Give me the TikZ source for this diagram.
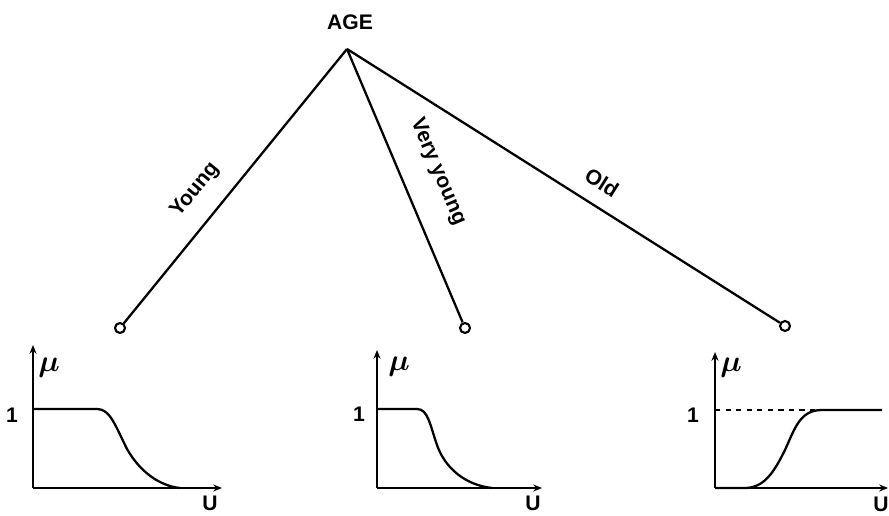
\documentclass[tikz,border=0pt]{standalone}
\usepackage{fontspec}
\setmainfont{Liberation Sans}
\usetikzlibrary{arrows.meta}

\begin{document}
\begin{tikzpicture}[x=0.02cm,y=-0.02cm,line width=1.3pt,
  lbl/.style={font=\bfseries\fontsize{12}{14}\selectfont},
  mulbl/.style={font=\fontsize{16}{18}\selectfont\boldmath},
  feuille/.style={circle,draw,fill=white,inner sep=0pt,minimum size=0.2cm,line width=1.2pt},
  axe/.style={-{Stealth[length=5pt,width=4pt]},line width=1.5pt}]

\useasboundingbox (0,0) rectangle (889,516);

% Racine
\coordinate (apex) at (347,49);
\node[lbl] (age) at (350,22) {AGE};

% Feuilles
\node[feuille] (young) at (120,328) {};
\node[feuille] (vyoung) at (465,328) {};
\node[feuille] (old) at (785,326) {};

% Branches
\draw (apex) -- (young) node[lbl,sloped,above=7pt,pos=0.58] {Young};
\draw (apex) -- (vyoung) node[lbl,sloped,above=11pt,pos=0.5] {Very young};
\draw (apex) -- (old) node[lbl,sloped,above=5pt,pos=0.56] {Old};

% Graphe 1 : young
\draw[axe] (33,488) -- (33,345);
\draw[axe] (33,488) -- (222,488);
\draw (33,409) -- (97,409) .. controls (110,409) and (115,425) .. (127,449)
  .. controls (140,472) and (160,486) .. (180,488);
\node[lbl] (un1) at (12,415) {1};
\node[mulbl] (mu1) at (49,368) {$\mu$};
\node[lbl] (u1) at (210,503) {U};

% Graphe 2 : very young
\draw[axe] (377,488) -- (377,350);
\draw[axe] (377,488) -- (542,488);
\draw (377,409) -- (417,409) .. controls (428,409) and (430,425) .. (437,445)
  .. controls (445,468) and (465,485) .. (492,488);
\node[lbl] (un2) at (359,414) {1};
\node[mulbl] (mu2) at (399,367) {$\mu$};
\node[lbl] (u2) at (533,503) {U};

% Graphe 3 : old
\draw[axe] (715,488) -- (715,352);
\draw[axe] (715,488) -- (888,488);
\draw[dashed] (715,410) -- (815,410);
\draw (715,488) -- (745,488) .. controls (765,488) and (775,470) .. (785,450)
  .. controls (795,428) and (800,410) .. (822,410) -- (882,410);
\node[lbl] (un3) at (693,415) {1};
\node[mulbl] (mu3) at (731,368) {$\mu$};
\node[lbl] (u3) at (881,504) {U};

\end{tikzpicture}
\end{document}
